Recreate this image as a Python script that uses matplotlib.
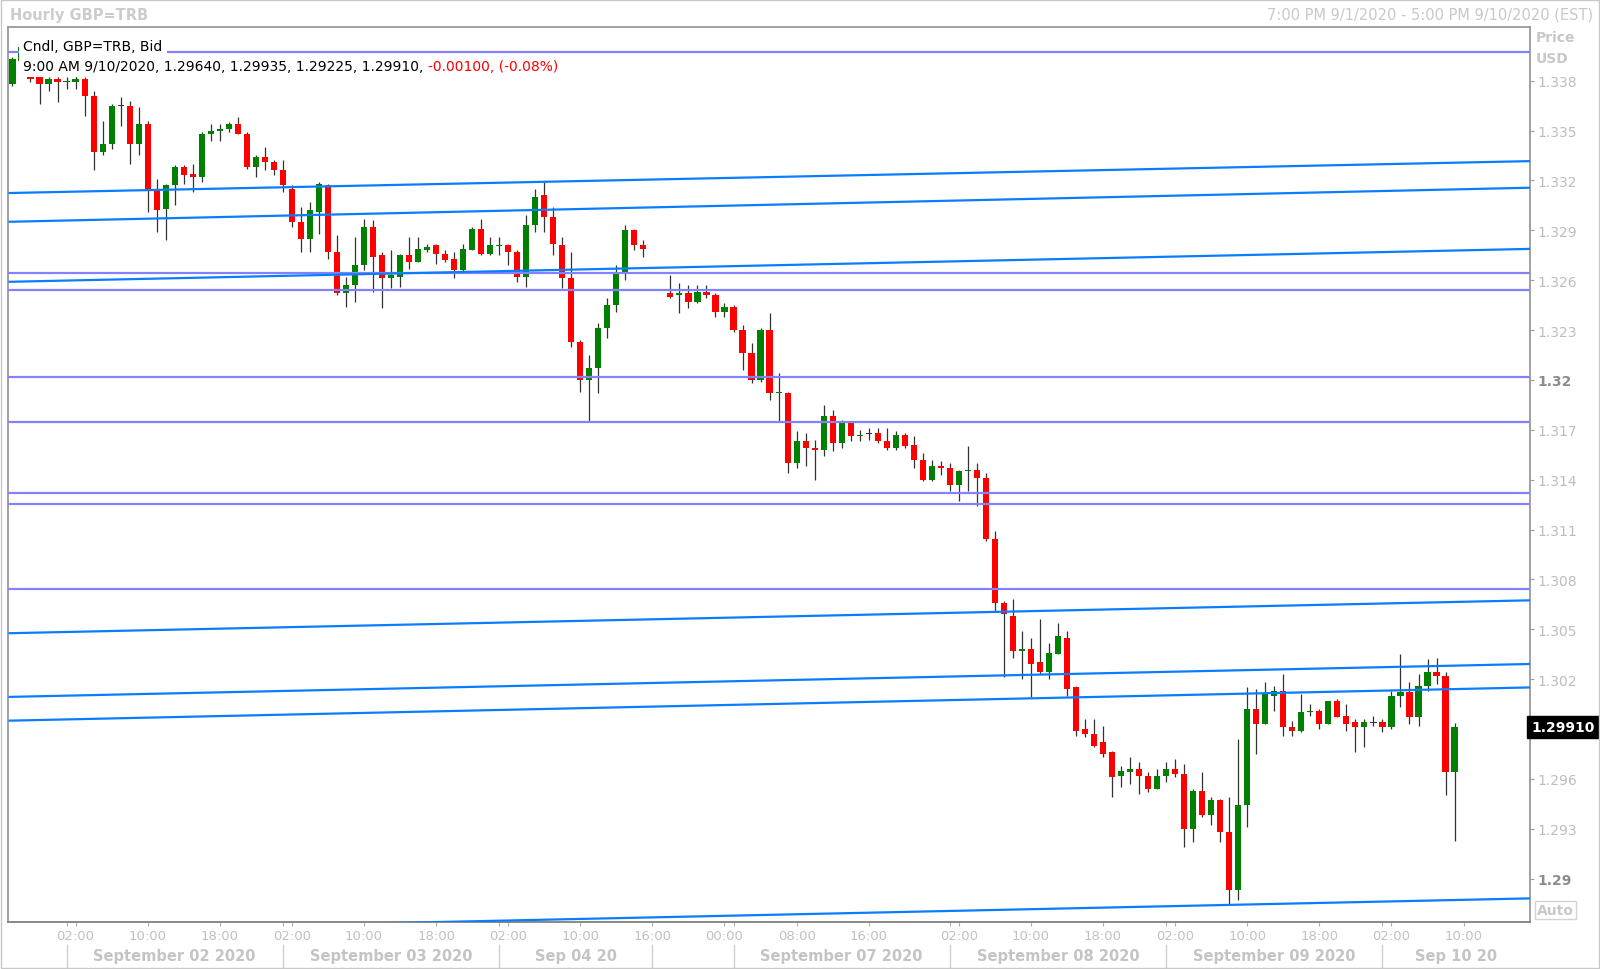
import numpy as np
import matplotlib
matplotlib.use("Agg")
import matplotlib.pyplot as plt
from matplotlib.patches import Rectangle
from matplotlib import transforms

# hourly bars, index 0 = 7:00 PM 9/1/2020; 71 and 72 have no data
opens = [1.3378, 1.3392, 1.3399, 1.3382, 1.3378, 1.3381, 1.3379, 1.3379, 1.3381, 1.3371,
         1.3337, 1.3342, 1.3365, 1.3365, 1.3342, 1.3354, 1.3314, 1.3303, 1.3317, 1.3328,
         1.3324, 1.3322, 1.3348, 1.3350, 1.3351, 1.3354, 1.3348, 1.3328, 1.3334, 1.3331,
         1.3326, 1.3315, 1.3295, 1.3285, 1.3301, 1.3317, 1.3277, 1.3252, 1.3257, 1.3269,
         1.3292, 1.3275, 1.3261, 1.3262, 1.3275, 1.3271, 1.3278, 1.3281, 1.3276, 1.3273,
         1.3266, 1.3278, 1.3291, 1.3276, 1.32805, 1.3281, 1.3277, 1.3262, 1.3293, 1.3311,
         1.3298, 1.3281, 1.3261, 1.3223, 1.3200, 1.3207, 1.3231, 1.3245, 1.3265, 1.3290,
         1.3281, None, None, 1.3252, 1.3251, 1.3252, 1.3247, 1.3253, 1.3251, 1.3241,
         1.3244, 1.3230, 1.3216, 1.3200, 1.3230, 1.31920, 1.3192, 1.3150, 1.3163, 1.3159,
         1.3158, 1.3178, 1.3162, 1.3174, 1.3166, 1.3168, 1.3168, 1.3163, 1.3159, 1.3167,
         1.3161, 1.3152, 1.3140, 1.3148, 1.3147, 1.3137, 1.3145, 1.3146, 1.3141, 1.3104,
         1.3066, 1.3058, 1.3037, 1.3038, 1.3030, 1.3024, 1.3035, 1.3045, 1.3015, 1.2990,
         1.2987, 1.2982, 1.2976, 1.2962, 1.2964, 1.2966, 1.2962, 1.2954, 1.2962, 1.2966,
         1.2963, 1.2930, 1.2953, 1.2938, 1.2947, 1.2928, 1.2893, 1.2944, 1.3002, 1.2993,
         1.3010, 1.3013, 1.2991, 1.2989, 1.3000, 1.3001, 1.2993, 1.3007, 1.2998, 1.2994,
         1.2991, 1.2994, 1.2994, 1.2991, 1.3010, 1.3012, 1.2997, 1.3016, 1.3024, 1.3022,
         1.29640]
highs = [1.3394, 1.3403, 1.3402, 1.3383, 1.3382, 1.3382, 1.3382, 1.3383, 1.3382, 1.3374,
         1.3356, 1.3366, 1.3370, 1.3368, 1.3364, 1.3356, 1.3321, 1.3318, 1.3329, 1.3329,
         1.3330, 1.3349, 1.3354, 1.3354, 1.3355, 1.3358, 1.3349, 1.3335, 1.3340, 1.3332,
         1.3332, 1.3317, 1.3304, 1.3307, 1.3319, 1.3318, 1.3287, 1.3262, 1.3286, 1.3297,
         1.3296, 1.3277, 1.3278, 1.3276, 1.3286, 1.3286, 1.3282, 1.3282, 1.3278, 1.3277,
         1.3282, 1.3292, 1.3297, 1.3286, 1.3286, 1.3282, 1.3278, 1.3299, 1.3315, 1.3319,
         1.3304, 1.3286, 1.3277, 1.3224, 1.3215, 1.3234, 1.3249, 1.3269, 1.3293, 1.3291,
         1.3284, None, None, 1.3263, 1.3258, 1.3257, 1.3257, 1.3257, 1.3252, 1.3246,
         1.3245, 1.3233, 1.3222, 1.3231, 1.3240, 1.3204, 1.3193, 1.3169, 1.3168, 1.3164,
         1.3185, 1.3182, 1.3176, 1.3175, 1.3170, 1.3171, 1.3171, 1.3171, 1.3169, 1.3168,
         1.3166, 1.3156, 1.3152, 1.3151, 1.3150, 1.3146, 1.3160, 1.3150, 1.3144, 1.3109,
         1.3067, 1.3068, 1.3049, 1.3045, 1.3056, 1.3042, 1.3054, 1.3049, 1.3016, 1.2996,
         1.2996, 1.2992, 1.2977, 1.2968, 1.2973, 1.2970, 1.2964, 1.2966, 1.2970, 1.2972,
         1.2969, 1.2954, 1.2964, 1.2949, 1.2948, 1.2949, 1.2984, 1.3015, 1.3014, 1.3018,
         1.3016, 1.3023, 1.2995, 1.3011, 1.3005, 1.3002, 1.3007, 1.3008, 1.3005, 1.2996,
         1.2996, 1.2998, 1.2996, 1.3013, 1.3035, 1.3018, 1.3023, 1.3032, 1.3033, 1.3024,
         1.29935]
lows = [1.3377, 1.3391, 1.3379, 1.3366, 1.3374, 1.3367, 1.3375, 1.3375, 1.3359, 1.3326,
        1.3335, 1.3339, 1.3353, 1.3330, 1.3335, 1.3301, 1.3289, 1.3284, 1.3305, 1.3318,
        1.3313, 1.3319, 1.3344, 1.3344, 1.3349, 1.3348, 1.3327, 1.3322, 1.3326, 1.3323,
        1.3313, 1.3292, 1.3277, 1.3277, 1.3288, 1.3273, 1.3251, 1.3244, 1.3247, 1.3266,
        1.3253, 1.3243, 1.3255, 1.3256, 1.3267, 1.3271, 1.3277, 1.3270, 1.3271, 1.3261,
        1.3265, 1.3278, 1.3275, 1.3275, 1.3275, 1.3269, 1.3259, 1.3256, 1.3289, 1.3289,
        1.3275, 1.3255, 1.3220, 1.3193, 1.3175, 1.3192, 1.3225, 1.3241, 1.3260, 1.3278,
        1.3274, None, None, 1.3249, 1.3240, 1.3243, 1.3246, 1.3249, 1.3238, 1.3238,
        1.3229, 1.3206, 1.3198, 1.3199, 1.3188, 1.3175, 1.3144, 1.3147, 1.3148, 1.3140,
        1.3154, 1.3157, 1.3159, 1.3163, 1.3163, 1.3164, 1.3162, 1.3158, 1.3158, 1.3159,
        1.3147, 1.3139, 1.3139, 1.3143, 1.3133, 1.3127, 1.3133, 1.3124, 1.3103, 1.3061,
        1.3021, 1.3033, 1.3020, 1.3009, 1.3023, 1.3020, 1.3035, 1.3010, 1.2986, 1.2985,
        1.2979, 1.2973, 1.2949, 1.2955, 1.2957, 1.2951, 1.2952, 1.2954, 1.2958, 1.2961,
        1.2919, 1.2922, 1.2937, 1.2932, 1.2922, 1.2885, 1.2887, 1.2931, 1.2975, 1.2993,
        1.3001, 1.2986, 1.2986, 1.2988, 1.2998, 1.2990, 1.2993, 1.2997, 1.2989, 1.2976,
        1.2979, 1.2992, 1.2988, 1.2990, 1.3003, 1.2993, 1.2992, 1.3013, 1.3017, 1.2950,
        1.29225]
closes = [1.3393, 1.3400, 1.3381, 1.3378, 1.3381, 1.3379, 1.3380, 1.3381, 1.3371, 1.3337,
          1.3342, 1.3365, 1.3365, 1.3342, 1.3354, 1.3315, 1.3302, 1.3317, 1.3328, 1.3323,
          1.3322, 1.3348, 1.3350, 1.3351, 1.3354, 1.3348, 1.3328, 1.3334, 1.3331, 1.3326,
          1.3317, 1.3295, 1.3285, 1.3302, 1.3318, 1.3277, 1.3252, 1.3257, 1.3269, 1.3292,
          1.3274, 1.3261, 1.3263, 1.3275, 1.3271, 1.3279, 1.3280, 1.3276, 1.3272, 1.3266,
          1.3279, 1.3291, 1.3276, 1.3281, 1.3281, 1.3277, 1.3262, 1.3293, 1.3310, 1.3298,
          1.3282, 1.3261, 1.3223, 1.3200, 1.3207, 1.3231, 1.3245, 1.3265, 1.3290, 1.3281,
          1.3279, None, None, 1.3250, 1.3252, 1.3247, 1.3253, 1.3251, 1.3241, 1.3244,
          1.3230, 1.3216, 1.3200, 1.3230, 1.3192, 1.31925, 1.3150, 1.3163, 1.3159, 1.3158,
          1.3178, 1.3162, 1.3175, 1.3166, 1.3167, 1.3168, 1.3163, 1.3159, 1.3167, 1.3160,
          1.3152, 1.3140, 1.3148, 1.3147, 1.3137, 1.3145, 1.3146, 1.3141, 1.3104, 1.3066,
          1.3059, 1.3037, 1.3038, 1.3029, 1.3024, 1.3036, 1.3046, 1.3014, 1.2989, 1.2987,
          1.2980, 1.2975, 1.2961, 1.2965, 1.2966, 1.2962, 1.2954, 1.2962, 1.2966, 1.2963,
          1.2930, 1.2953, 1.2938, 1.2947, 1.2928, 1.2893, 1.2944, 1.3002, 1.2993, 1.3011,
          1.3013, 1.2991, 1.2989, 1.3000, 1.3001, 1.2993, 1.3007, 1.2997, 1.2993, 1.2991,
          1.2994, 1.2994, 1.2991, 1.3010, 1.3012, 1.2997, 1.3016, 1.3024, 1.3022, 1.2964,
          1.29910]

# horizontal levels and parallel trend lines (value at left / right edge)
h_levels = [1.3397, 1.32640, 1.32542, 1.32016, 1.31745, 1.31320, 1.31255, 1.30740]
trend_left = [1.33124, 1.32951, 1.32590, 1.30476, 1.30093, 1.29950, 1.28683]
trend_right = [1.33316, 1.33156, 1.32788, 1.30674, 1.30291, 1.30150, 1.28881]

y_ticks = [1.29, 1.293, 1.296, 1.302, 1.305, 1.308, 1.311, 1.314, 1.317, 1.32,
           1.323, 1.326, 1.329, 1.332, 1.335, 1.338]
y_bold = [1.29, 1.32]

time_ticks = [7, 15, 23, 31, 39, 47, 55, 63, 71, 79, 87, 95, 105, 113, 121, 129,
              137, 145, 153, 161]
time_labels = ['02:00', '10:00', '18:00', '02:00', '10:00', '18:00', '02:00', '10:00',
               '16:00', '00:00', '08:00', '16:00', '02:00', '10:00', '18:00', '02:00',
               '10:00', '18:00', '02:00', '10:00']
day_breaks = [6, 30, 54, 71, 80, 104, 128, 152]
day_centers = [18, 42, 62.5, 92, 116, 140, 160.2]
day_labels = ['September 02 2020', 'September 03 2020', 'Sep 04 20',
              'September 07 2020', 'September 08 2020', 'September 09 2020',
              'Sep 10 20']

last_price = 1.29910
x_lo, x_hi = -0.44, 168.37
y_lo, y_hi = 1.28736, 1.34121

grey = '#c4c4c4'

fig = plt.figure(figsize=(16, 9.7), dpi=100)
fig.patch.set_facecolor('white')
ax = fig.add_axes([0.00531, 0.04794, 0.95094, 0.92289])

# candles
x = np.arange(len(opens))
o = np.array(opens, dtype=float)
h = np.array(highs, dtype=float)
l = np.array(lows, dtype=float)
c = np.array(closes, dtype=float)
ok = ~np.isnan(o)
x, o, h, l, c = x[ok], o[ok], h[ok], l[ok], c[ok]

ax.vlines(x, l, h, color='#333333', lw=0.9, zorder=2)
min_h = 0.00007
body_h = np.maximum(np.abs(c - o), min_h)
body_lo = np.where(np.abs(c - o) < min_h, (o + c) / 2 - min_h / 2, np.minimum(o, c))
colors = []
for oo, cc in zip(o, c):
    if cc > oo:
        colors.append('#008000')
    elif cc < oo:
        colors.append('#ff0000')
    else:
        colors.append('#333333')
ax.bar(x, body_h, bottom=body_lo, width=0.68, color=colors, linewidth=0, zorder=3)

# lines
for lv in h_levels:
    ax.axhline(lv, color='#8282ff', lw=1.6, zorder=4)
for a, b in zip(trend_left, trend_right):
    ax.plot([x_lo, x_hi], [a, b], color='#0a7dff', lw=1.6, zorder=4,
            solid_capstyle='butt')

ax.set_xlim(x_lo, x_hi)
ax.set_ylim(y_lo, y_hi)

for s in ax.spines.values():
    s.set_color('#9a9a9a')
    s.set_linewidth(1.3)
ax.spines['bottom'].set_color('#808080')

# y axis on the right
ax.yaxis.tick_right()
ax.set_yticks(y_ticks)
ax.set_yticklabels([('%.3f' % v).rstrip('0') for v in y_ticks])
ax.tick_params(axis='y', length=3, width=0.8, color='#a0a0a0', pad=2.5,
               labelsize=10, labelcolor='#bdbdbd')
for lab, v in zip(ax.get_yticklabels(), y_ticks):
    if v in y_bold:
        lab.set_fontweight('bold')
        lab.set_color('#8c8c8c')

# x axis
ax.set_xticks(time_ticks)
ax.set_xticklabels(time_labels)
ax.set_xticks(day_breaks, minor=True)
ax.tick_params(axis='x', which='both', length=3, width=0.8, color='#b0b0b0', pad=2,
               labelsize=9.5, labelcolor='#c0c0c0')

tr = transforms.blended_transform_factory(ax.transData, fig.transFigure)
for xb in day_breaks:
    ax.plot([xb, xb], [0.0025, 0.0245], transform=tr, color='#d0d0d0', lw=1,
            clip_on=False)
for xc, txt in zip(day_centers, day_labels):
    ax.text(xc, 0.0135, txt, transform=tr, ha='center', va='center', fontsize=10.5,
            fontweight='bold', color=grey)

# header texts
fig.text(0.0062, 0.9842, 'Hourly GBP=TRB', ha='left', va='center', fontsize=10.5,
         fontweight='bold', color='#cccccc')
fig.text(0.9955, 0.9842, '7:00 PM 9/1/2020 - 5:00 PM 9/10/2020 (EST)', ha='right',
         va='center', fontsize=10.5, color='#c8c8c8')
fig.text(0.96, 0.961, 'Price', ha='left', va='center', fontsize=10,
         fontweight='bold', color='#c8c8c8')
fig.text(0.96, 0.9392, 'USD', ha='left', va='center', fontsize=10,
         fontweight='bold', color='#c8c8c8')
fig.text(0.9606, 0.0605, 'Auto', ha='left', va='center', fontsize=10,
         fontweight='bold', color='#c8c8c8',
         bbox=dict(boxstyle='square,pad=0.15', fc='white', ec='#d4d4d4', lw=1))

# legend / tooltip lines
box = dict(boxstyle='square,pad=0.3', fc='white', ec='none')
ax.text(0.0097, 0.9794, 'Cndl, GBP=TRB, Bid', transform=ax.transAxes, ha='left',
        va='center', fontsize=10, color='black', bbox=box, zorder=6)
t2 = ax.text(0.0097, 0.9564, '9:00 AM 9/10/2020, %.5f, %.5f, %.5f, %.5f, '
             % (opens[-1], highs[-1], lows[-1], closes[-1]),
             transform=ax.transAxes, ha='left', va='center', fontsize=10,
             color='black', bbox=box, zorder=6)
ax.annotate('-0.00100, (-0.08%)', xy=(1, 0.5), xycoords=t2, ha='left', va='center',
            fontsize=10, color='#ff0000', bbox=box, zorder=6)

# last price marker
ax.annotate('%.5f' % last_price, xy=(1.0, last_price),
            xycoords=('axes fraction', 'data'), xytext=(1, 0),
            textcoords='offset points', ha='left', va='center', fontsize=10,
            fontweight='bold', color='white', annotation_clip=False,
            bbox=dict(boxstyle='square,pad=0.3', fc='black', ec='black'), zorder=7)

# outer frame
fig.patches.append(Rectangle((0.0008, 0.0012), 0.9984, 0.9976,
                             transform=fig.transFigure, fill=False,
                             ec='#c8c8c8', lw=1))

fig.savefig('out.png', dpi=100, facecolor='white')
